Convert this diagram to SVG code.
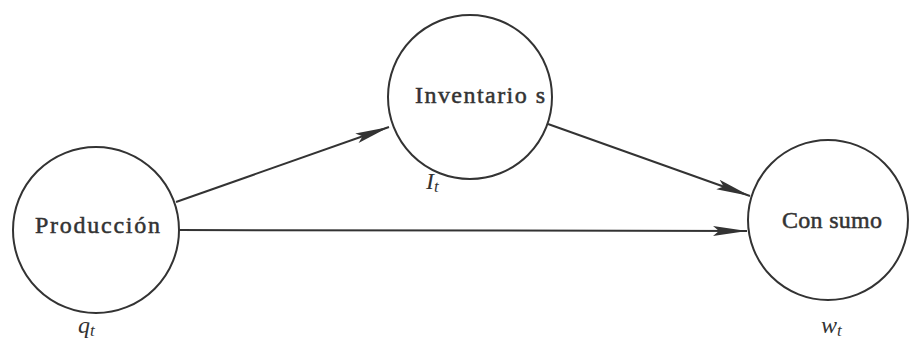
<svg xmlns="http://www.w3.org/2000/svg" width="909" height="340" viewBox="0 0 909 340">
<style>
.node{fill:#fff;stroke:#333;stroke-width:2}
.lbl{font-family:"Liberation Serif","Times New Roman",serif;font-size:24px;fill:#333;stroke:#333;stroke-width:0.5}
.var{font-family:"Liberation Serif","Times New Roman",serif;font-size:24px;font-style:italic;fill:#333}
.sub{font-size:17px}
.edge{stroke:#333;stroke-width:2;fill:none;marker-end:url(#ah)}
</style>
<defs>
<marker id="ah" markerUnits="userSpaceOnUse" markerWidth="36" markerHeight="14" refX="34" refY="6" orient="auto">
<path d="M0,1 L34,6 L0,11 L6,6 Z" fill="#333"/>
</marker>
</defs>
<rect width="909" height="340" fill="#fff"/>
<g id="connectors">
<line class="edge" x1="176" y1="202" x2="389" y2="127"/>
<line class="edge" x1="179" y1="230" x2="747" y2="231"/>
<line class="edge" x1="548" y1="124" x2="750" y2="196"/>
</g>
<g id="produccion">
<circle class="node" cx="96" cy="230" r="83"/>
<text class="lbl" x="35" y="233" textLength="125" lengthAdjust="spacing">Producción</text>
<text class="var" x="78" y="333">q<tspan class="sub" dy="3">t</tspan></text>
</g>
<g id="inventarios">
<circle class="node" cx="470" cy="97" r="82"/>
<text class="lbl" x="415" y="103" textLength="130" lengthAdjust="spacing">Inventario s</text>
<text class="var" x="426" y="189">I<tspan class="sub" dy="3">t</tspan></text>
</g>
<g id="consumo">
<circle class="node" cx="828" cy="220" r="80"/>
<text class="lbl" x="782" y="228" textLength="100" lengthAdjust="spacing">Con sumo</text>
<text class="var" x="821" y="333">w<tspan class="sub" dy="3">t</tspan></text>
</g>
</svg>
